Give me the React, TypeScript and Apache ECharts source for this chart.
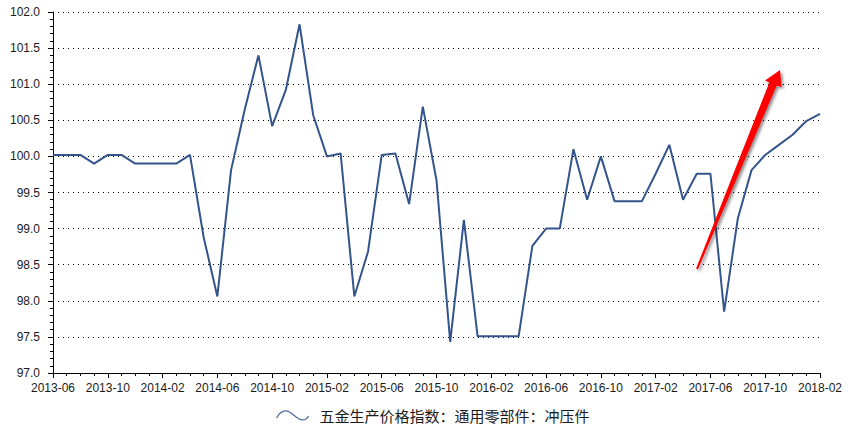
import React, { useEffect, useRef } from "react";
import * as echarts from "echarts";

const months: string[] = [
  "2013-06", "2013-07", "2013-08", "2013-09", "2013-10", "2013-11", "2013-12",
  "2014-01", "2014-02", "2014-03", "2014-04", "2014-05", "2014-06", "2014-07", "2014-08", "2014-09", "2014-10", "2014-11", "2014-12",
  "2015-01", "2015-02", "2015-03", "2015-04", "2015-05", "2015-06", "2015-07", "2015-08", "2015-09", "2015-10", "2015-11", "2015-12",
  "2016-01", "2016-02", "2016-03", "2016-04", "2016-05", "2016-06", "2016-07", "2016-08", "2016-09", "2016-10", "2016-11", "2016-12",
  "2017-01", "2017-02", "2017-03", "2017-04", "2017-05", "2017-06", "2017-07", "2017-08", "2017-09", "2017-10", "2017-11", "2017-12",
  "2018-01", "2018-02",
];

const values: number[] = [
  100.02, 100.02, 100.02, 99.9, 100.02, 100.02, 99.9, 99.9, 99.9, 99.9,
  100.02, 98.88, 98.06, 99.81, 100.65, 101.4, 100.42, 100.92, 101.83, 100.57,
  100.0, 100.04, 98.06, 98.68, 100.02, 100.04, 99.34, 100.69, 99.67, 97.43,
  99.12, 97.51, 97.51, 97.51, 97.51, 98.76, 99.0, 99.0, 100.1, 99.4,
  100.0, 99.38, 99.38, 99.38, 99.76, 100.16, 99.4, 99.76, 99.76, 97.85,
  99.14, 99.81, 100.02, 100.16, 100.3, 100.49, 100.59,
];

const seriesName = "五金生产价格指数：通用零部件：冲压件";
const lineColor = "#34558b";

export default function App() {
  const ref = useRef<HTMLDivElement>(null);
  useEffect(() => {
    if (!ref.current) return;
    const chart = echarts.init(ref.current, null, { renderer: "svg" });
    const labelFont = { fontFamily: "Liberation Sans, Arial, sans-serif", fontSize: 12, color: "#1a1a1a" };
    chart.setOption({
      animation: false,
      backgroundColor: "#ffffff",
      grid: { left: 53, right: 30, top: 12, bottom: 53, containLabel: false },
      xAxis: {
        type: "value",
        min: 0,
        max: months.length - 1,
        interval: 4,
        axisLine: { show: true, lineStyle: { color: "#000", width: 1 } },
        axisTick: { show: true, length: 5, lineStyle: { color: "#000" } },
        minorTick: { show: true, splitNumber: 4, length: 3, lineStyle: { color: "#000" } },
        splitLine: { show: false },
        axisLabel: {
          ...labelFont,
          margin: 9,
          formatter: (v: number) => months[Math.round(v)] ?? "",
        },
      },
      yAxis: {
        type: "value",
        min: 97,
        max: 102,
        interval: 0.5,
        axisLine: { show: true, lineStyle: { color: "#000", width: 1 } },
        axisTick: { show: true, length: 5, lineStyle: { color: "#000" } },
        minorTick: { show: true, splitNumber: 5, length: 3, lineStyle: { color: "#000" } },
        splitLine: { show: true, lineStyle: { color: "#000", width: 1, type: [1, 4] } },
        axisLabel: {
          ...labelFont,
          margin: 13,
          formatter: (v: number) => v.toFixed(1),
        },
      },
      legend: {
        show: true,
        left: 274,
        top: 408,
        padding: 0,
        itemWidth: 32,
        itemHeight: 10,
        icon: "path://M0,8 C4,1 9,0 13,2 C17,4 21,10 26,10 C29,10 31,8 32,6",
        itemStyle: { color: "none", borderColor: "#4a6a9c", borderWidth: 1.2 },
        textStyle: {
          fontFamily: "Noto Sans CJK SC, sans-serif",
          fontSize: 15,
          color: "#1a1a1a",
          padding: [0, 0, 0, 6],
        },
        data: [seriesName],
      },
      series: [
        {
          name: seriesName,
          type: "line",
          data: values.map((v, i) => [i, v]),
          showSymbol: false,
          symbol: "none",
          lineStyle: { color: lineColor, width: 2 },
          itemStyle: { color: lineColor },
        },
      ],
      graphic: [
        {
          type: "polygon",
          z: 100,
          shape: {
            points: [
              [697.9, 269.4],
              [776.7, 85.5],
              [781.5, 87],
              [780, 70],
              [765, 80.5],
              [769.3, 82.5],
              [696.1, 268.6],
            ],
          },
          style: {
            fill: "#ff0000",
            shadowBlur: 3,
            shadowOffsetX: 2,
            shadowOffsetY: 2,
            shadowColor: "rgba(0,0,0,0.45)",
          },
        },
      ],
    });
    return () => chart.dispose();
  }, []);
  return <div ref={ref} style={{ width: 850, height: 426, position: "absolute", left: 0, top: 0 }} />;
}
